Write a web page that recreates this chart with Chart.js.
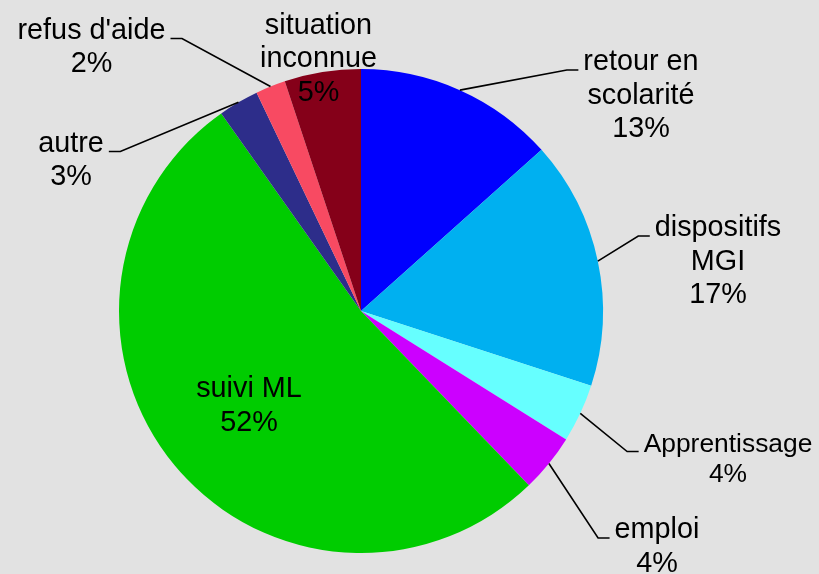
<!DOCTYPE html>
<html>
<head>
<meta charset="utf-8">
<script src="https://cdn.jsdelivr.net/npm/chart.js@4.4.0/dist/chart.umd.min.js"></script>
<style>
  html, body { margin: 0; padding: 0; background: #e2e2e2; }
  #wrap { width: 819px; height: 574px; }
</style>
</head>
<body>
<div id="wrap"><canvas id="mycanvas" width="819" height="574"></canvas></div>
<script>
// parts of the pie, clockwise from 12 o'clock
var categories = ['retour en scolarité', 'dispositifs MGI', 'Apprentissage', 'emploi', 'suivi ML', 'autre', "refus d'aide", 'situation inconnue'];
var labelLines = [['retour en', 'scolarité'], ['dispositifs', 'MGI'], ['Apprentissage'], ['emploi'], ['suivi ML'], ['autre'], ["refus d'aide"], ['situation', 'inconnue']];
var shares = [13.4, 16.6, 3.9, 3.9, 52.4, 2.7, 2.0, 5.1];
var colours = ['#0000ff', '#00b0f0', '#66ffff', '#cc00ff', '#00cc00', '#2d2d8a', '#f84a62', '#850019'];

// where each label sits (centre x, first baseline) and whether it has a leader line
var labelAt = [
    { x: 641, y: 70, lead: 'left' },
    { x: 718, y: 236, lead: 'left' },
    { x: 728, y: 451.5, lead: 'left', size: 26.4, lh: 30.5 },
    { x: 657, y: 538, lead: 'left' },
    { x: 249, y: 397, lead: null },
    { x: 71, y: 151.5, lead: 'right' },
    { x: 91.5, y: 38.5, lead: 'right' },
    { x: 318.5, y: 33.5, lead: null }
];

var pieLabels = {
    id: 'pieLabels',
    afterDatasetsDraw: function(chart) {
        var ctx = chart.ctx;
        var meta = chart.getDatasetMeta(0);
        var total = shares.reduce(function(a, b) { return a + b; }, 0);
        ctx.save();
        ctx.fillStyle = '#000';
        ctx.strokeStyle = '#000';
        ctx.lineWidth = 1.6;
        ctx.textAlign = 'center';
        ctx.textBaseline = 'alphabetic';
        for (var i = 0; i < meta.data.length; i++) {
            var arc = meta.data[i];
            var pos = labelAt[i];
            var size = pos.size || 28.8;
            var lh = pos.lh || 33.5;
            ctx.font = size + 'px "Liberation Sans", Arial, sans-serif';
            var lines = labelLines[i].concat([Math.round(shares[i] / total * 100) + '%']);
            var w = ctx.measureText(lines[0]).width;
            for (var k = 0; k < lines.length; k++) {
                ctx.fillText(lines[k], pos.x, pos.y + k * lh);
            }
            if (pos.lead) {
                var mid = (arc.startAngle + arc.endAngle) / 2;
                var sx = arc.x + Math.cos(mid) * arc.outerRadius;
                var sy = arc.y + Math.sin(mid) * arc.outerRadius;
                var dir = pos.lead === 'left' ? -1 : 1;
                var ex = pos.x + dir * (w / 2 + 5);
                var bx = ex + dir * 11.5;
                ctx.beginPath();
                ctx.moveTo(sx, sy);
                ctx.lineTo(bx, pos.y);
                ctx.lineTo(ex, pos.y);
                ctx.stroke();
            }
        }
        ctx.restore();
    }
};

var chartdata = {
    labels: categories,
    datasets: [
        {
            data: shares,
            backgroundColor: colours,
            borderWidth: 0
        }
    ]
};

var ctx = document.getElementById('mycanvas');
var PieGraph = new Chart(ctx, {
    type: 'pie',
    data: chartdata,
    options: {
        responsive: false,
        animation: false,
        layout: { padding: { left: 119, right: 216, top: 69, bottom: 21 } },
        plugins: {
            legend: { display: false },
            tooltip: { enabled: false }
        }
    },
    plugins: [pieLabels]
});
</script>
</body>
</html>
